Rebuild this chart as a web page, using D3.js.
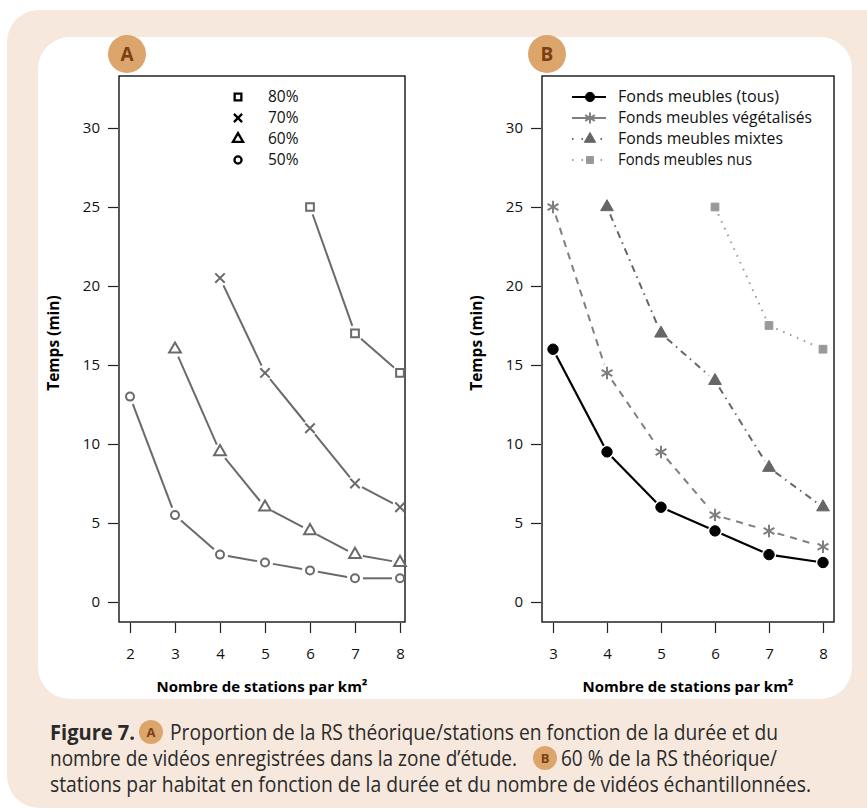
<!DOCTYPE html>
<html>
<head>
<meta charset="utf-8">
<script src="https://cdn.jsdelivr.net/npm/d3@7"></script>
<style>
  body { margin: 0; background: #fff; }
  svg text { font-family: "Open Sans", "Noto Sans", sans-serif; }
</style>
</head>
<body>
<div id="chart"></div>
<script>
// panel A : proportion of RS, x = stations/km2, y = time (min)
var pctLabels = ["80%", "70%", "60%", "50%"];
var x80 = [6, 7, 8],             y80 = [25, 17, 14.5];
var x70 = [4, 5, 6, 7, 8],       y70 = [20.5, 14.5, 11, 7.5, 6];
var x60 = [3, 4, 5, 6, 7, 8],    y60 = [16, 9.5, 6, 4.5, 3, 2.5];
var x50 = [2, 3, 4, 5, 6, 7, 8], y50 = [13, 5.5, 3, 2.5, 2, 1.5, 1.5];
var ticksA = [2, 3, 4, 5, 6, 7, 8];

// panel B : 60% of RS by habitat
var habLabels = ["Fonds meubles (tous)", "Fonds meubles végétalisés", "Fonds meubles mixtes", "Fonds meubles nus"];
var xTous = [3, 4, 5, 6, 7, 8], yTous = [16, 9.5, 6, 4.5, 3, 2.5];
var xVeg = [3, 4, 5, 6, 7, 8],  yVeg = [25, 14.5, 9.5, 5.5, 4.5, 3.5];
var xMix = [4, 5, 6, 7, 8],     yMix = [25, 17, 14, 8.5, 6];
var xNus = [6, 7, 8],           yNus = [25, 17.5, 16];
var ticksB = [3, 4, 5, 6, 7, 8];
var yTicks = [0, 5, 10, 15, 20, 25, 30];

var W = 867, H = 809;
var beige = "#f6e8dc", badge = "#dca56c", badgeTxt = "#7b3f12";

var svg = d3.select("#chart").append("svg")
    .attr("width", W).attr("height", H);

// frame
svg.append("rect").attr("x", 7).attr("y", 10).attr("width", 900).attr("height", 798)
    .attr("rx", 32).attr("fill", beige);
svg.append("rect").attr("x", 38).attr("y", 37).attr("width", 814).attr("height", 662)
    .attr("rx", 32).attr("fill", "#fff");

var sym = {
  square: d3.symbolSquare, cross: d3.symbolX, triangle: d3.symbolTriangle,
  circle: d3.symbolCircle, star: d3.symbolAsterisk
};

function zip(xs, ys) { return xs.map(function (v, i) { return [v, ys[i]]; }); }

// draw segments with small gaps near the points (like R type="b")
function gapLines(g, pts, x, y, gap, style) {
  for (var i = 0; i < pts.length - 1; i++) {
    var x1 = x(pts[i][0]), y1 = y(pts[i][1]), x2 = x(pts[i + 1][0]), y2 = y(pts[i + 1][1]);
    var dx = x2 - x1, dy = y2 - y1, len = Math.sqrt(dx * dx + dy * dy);
    var ux = dx / len, uy = dy / len;
    g.append("line")
      .attr("x1", x1 + ux * gap).attr("y1", y1 + uy * gap)
      .attr("x2", x2 - ux * gap).attr("y2", y2 - uy * gap)
      .attr("stroke", style.color).attr("stroke-width", style.width)
      .attr("stroke-dasharray", style.dash || null);
  }
}

function marker(g, type, cx, cy, size, color, filled, sw) {
  g.append("path")
    .attr("d", d3.symbol().type(sym[type]).size(size)())
    .attr("transform", "translate(" + cx + "," + cy + ")")
    .attr("fill", filled ? color : "none")
    .attr("stroke", color).attr("stroke-width", sw);
}

function panel(opt) {
  var g = svg.append("g");
  var x = d3.scaleLinear().domain([opt.ticks[0], opt.ticks[opt.ticks.length - 1]]).range(opt.xr);
  var y = d3.scaleLinear().domain([0, 30]).range([602, 128]);

  g.append("rect").attr("x", opt.box[0]).attr("y", 76)
    .attr("width", opt.box[1] - opt.box[0]).attr("height", 622 - 76)
    .attr("fill", "none").attr("stroke", "#000").attr("stroke-width", 1.3);

  var ya = g.append("g").attr("transform", "translate(" + (opt.box[0] - 1) + ",0)")
    .call(d3.axisLeft(y).tickValues(yTicks).tickFormat(d3.format("d")).tickSize(10).tickPadding(8));
  var xa = g.append("g").attr("transform", "translate(0,623)")
    .call(d3.axisBottom(x).tickValues(opt.ticks).tickFormat(d3.format("d")).tickSize(10).tickPadding(15));
  [ya, xa].forEach(function (a) {
    a.select(".domain").remove();
    a.selectAll("line").attr("stroke", "#222").attr("stroke-width", 1.2);
    a.selectAll("text").attr("font-size", 15).attr("fill", "#111");
  });

  g.append("text").attr("transform", "translate(" + opt.ytx + ",343) rotate(-90)")
    .attr("text-anchor", "middle").attr("font-size", 15.5).attr("font-weight", "bold")
    .text("Temps (min)");
  g.append("text").attr("x", (opt.box[0] + opt.box[1]) / 2).attr("y", 692)
    .attr("text-anchor", "middle").attr("font-size", 15).attr("font-weight", "bold")
    .text("Nombre de stations par km²");

  opt.series.forEach(function (s) {
    var pts = zip(s.xs, s.ys);
    gapLines(g, pts, x, y, s.gap, s);
    pts.forEach(function (p) {
      marker(g, s.sym, x(p[0]), y(p[1]), s.size, s.color, s.filled, s.sw);
    });
  });

  // badge
  svg.append("circle").attr("cx", opt.badge).attr("cy", 54).attr("r", 19).attr("fill", badge);
  svg.append("text").attr("x", opt.badge).attr("y", 61).attr("text-anchor", "middle")
    .attr("font-size", 19).attr("font-weight", "bold").attr("fill", badgeTxt)
    .text(opt.letter);
  return g;
}

var grey = "#6a6a6a";
var gA = panel({
  letter: "A", badge: 127, box: [119, 405], xr: [130, 400], ticks: ticksA, ytx: 59,
  series: [
    { xs: x80, ys: y80, sym: "square", color: grey, width: 2, size: 60, sw: 2, gap: 8 },
    { xs: x70, ys: y70, sym: "cross", color: grey, width: 2, size: 60, sw: 2, gap: 8 },
    { xs: x60, ys: y60, sym: "triangle", color: grey, width: 2, size: 60, sw: 2, gap: 8 },
    { xs: x50, ys: y50, sym: "circle", color: grey, width: 2, size: 50, sw: 2, gap: 8 }
  ]
});

var legA = ["square", "cross", "triangle", "circle"];
legA.forEach(function (s, i) {
  var yy = 97 + i * 21;
  marker(gA, s, 238, yy, s === "circle" ? 40 : 45, "#000", false, 2.3);
  gA.append("text").attr("x", 268).attr("y", yy + 5).attr("font-size", 15.5).attr("fill", "#111")
    .text(pctLabels[i]);
});

var seriesB = [
  { xs: xTous, ys: yTous, sym: "circle", color: "#000", width: 2.2, size: 85, sw: 1, filled: true, gap: 7 },
  { xs: xVeg, ys: yVeg, sym: "star", color: "#7f7f7f", width: 2, size: 110, sw: 2, filled: false, gap: 9, dash: "7,6" },
  { xs: xMix, ys: yMix, sym: "triangle", color: "#666", width: 2, size: 70, sw: 1, filled: true, gap: 8, dash: "7,5,1.5,5" },
  { xs: xNus, ys: yNus, sym: "square", color: "#999", width: 2, size: 60, sw: 1, filled: true, gap: 8, dash: "1.5,6" }
];
var gB = panel({
  letter: "B", badge: 547, box: [542, 834], xr: [553, 823], ticks: ticksB, ytx: 482,
  series: seriesB
});

seriesB.forEach(function (s, i) {
  var yy = 97 + i * 21;
  gB.append("line").attr("x1", 572).attr("x2", 606).attr("y1", yy).attr("y2", yy)
    .attr("stroke", s.color).attr("stroke-width", s.width)
    .attr("stroke-dasharray", i === 0 || i === 1 ? null : "1.5,8");
  marker(gB, s.sym, 590, yy, s.size * 0.8, s.color, s.filled, s.sw);
  gB.append("text").attr("x", 618).attr("y", yy + 5).attr("font-size", 15.5).attr("fill", "#111")
    .attr("textLength", [161, 194, 165, 134][i]).attr("lengthAdjust", "spacingAndGlyphs")
    .text(habLabels[i]);
});

// caption pieces: [kind, text, x start, width, baseline]
var capParts = [
  ["b", "Figure 7.", 50, 85, 740], ["badge", "A", 151, 0, 740],
  ["t", "Proportion de la RS théorique/stations en fonction de la durée et du", 170, 608, 740],
  ["t", "nombre de vidéos enregistrées dans la zone d’étude.", 50, 467, 766], ["badge", "B", 545, 0, 766],
  ["t", "60 % de la RS théorique/", 561, 216, 766],
  ["t", "stations par habitat en fonction de la durée et du nombre de vidéos échantillonnées.", 50, 761, 792]
];
var capFs = 21;
capParts.forEach(function (p) {
  if (p[0] === "badge") {
    svg.append("circle").attr("cx", p[2]).attr("cy", p[4] - 8).attr("r", 12).attr("fill", badge);
    svg.append("text").attr("x", p[2]).attr("y", p[4] - 3).attr("text-anchor", "middle")
      .attr("font-size", 13).attr("font-weight", "bold").attr("fill", badgeTxt).text(p[1]);
  } else {
    svg.append("text").attr("x", p[2]).attr("y", p[4]).attr("font-size", capFs)
      .attr("fill", "#2a2a2a")
      .attr("font-weight", p[0] === "b" ? "bold" : null)
      .attr("textLength", p[3]).attr("lengthAdjust", "spacingAndGlyphs")
      .text(p[1]);
  }
});
</script>
</body>
</html>
